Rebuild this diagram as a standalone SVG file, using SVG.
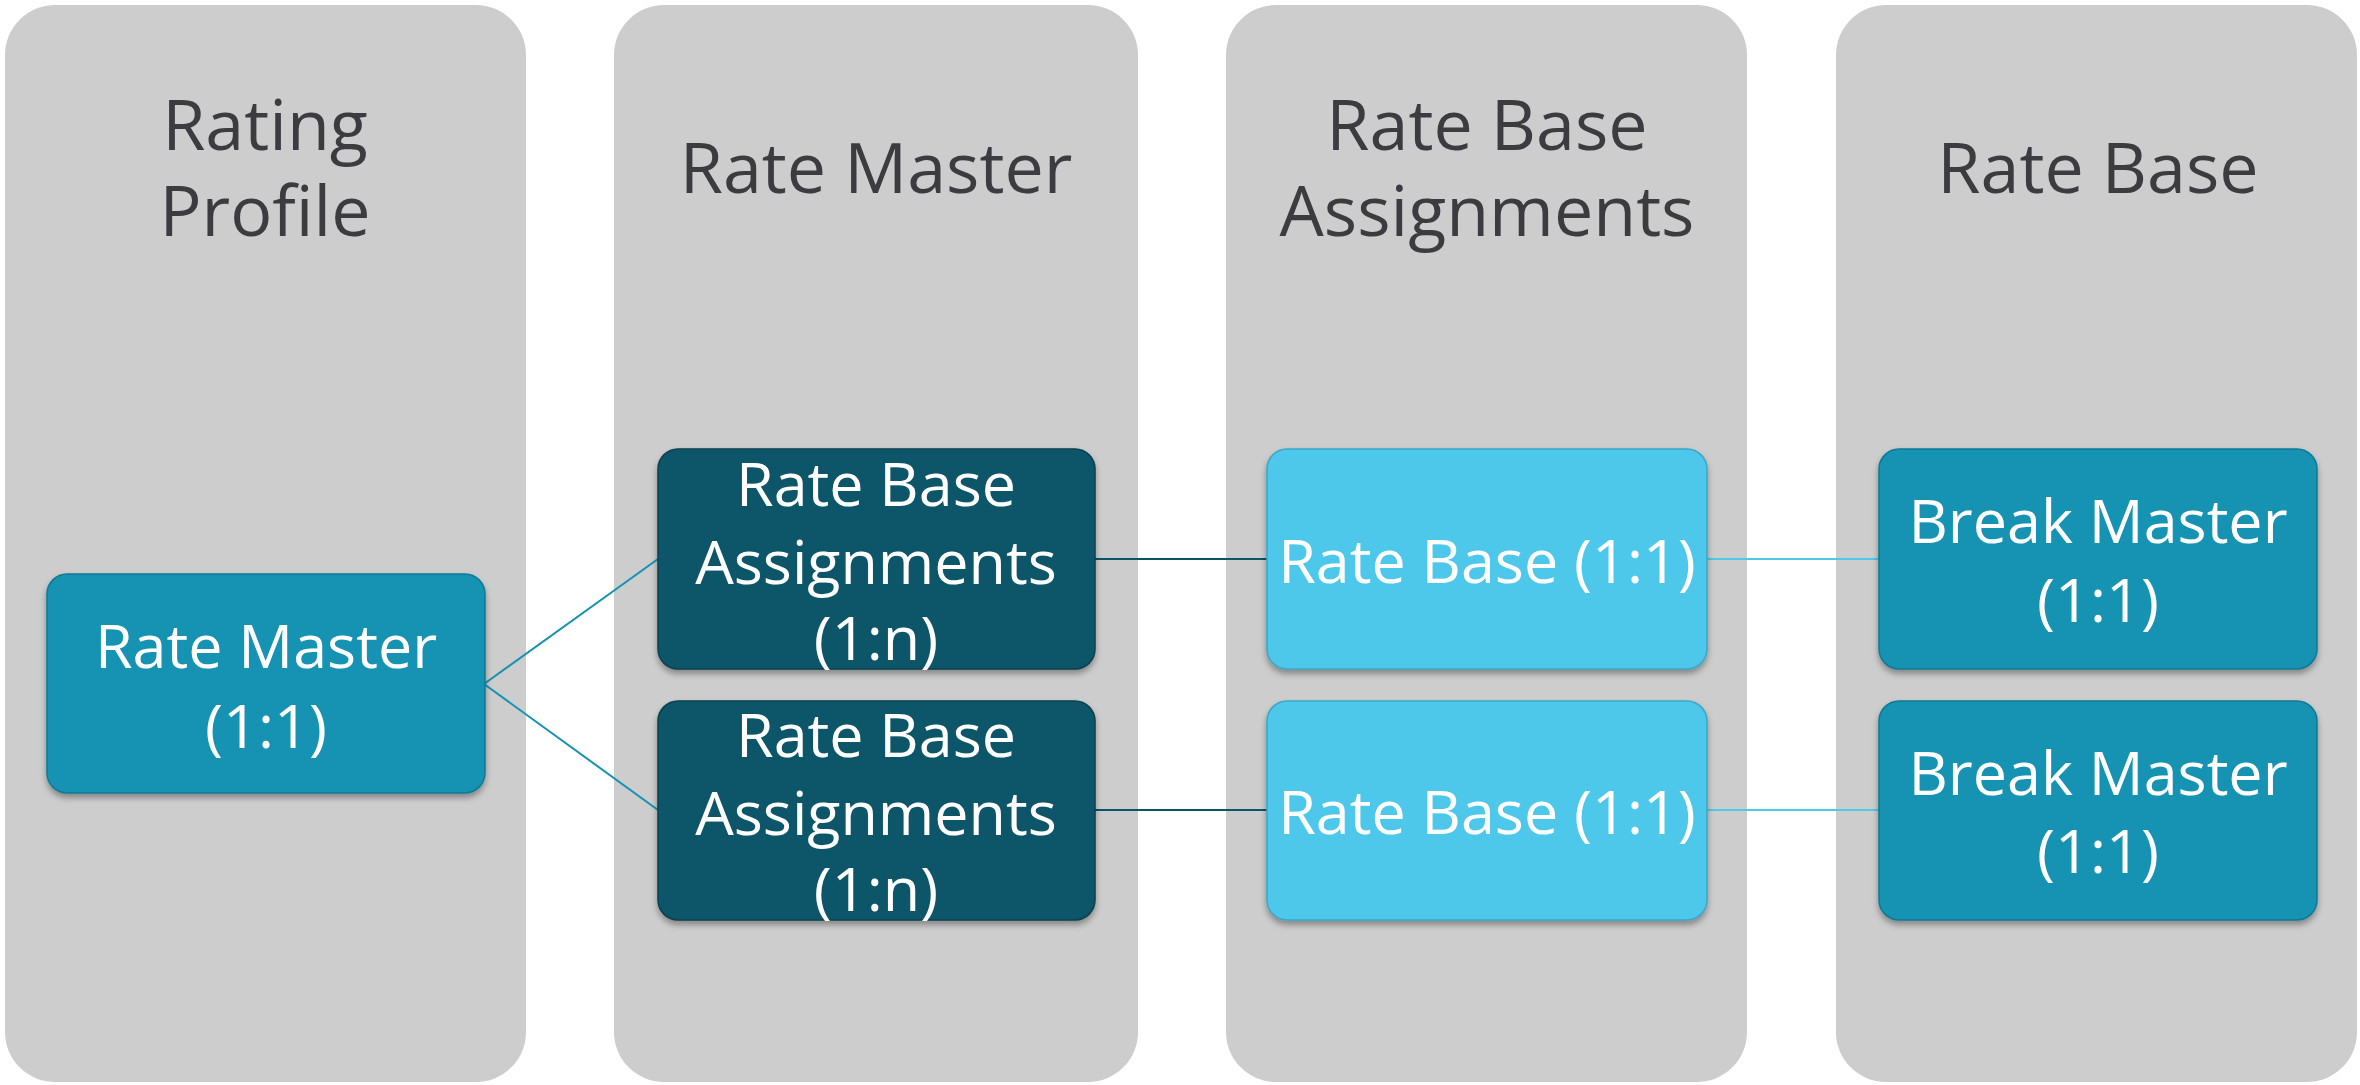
<svg xmlns="http://www.w3.org/2000/svg" width="2360" height="1085" viewBox="0 0 2360 1085">
<style>
.col{fill:#cdcdcd}
.hd{font-family:"Open Sans","Noto Sans",sans-serif;font-size:70px;fill:#3b3b40;text-anchor:middle}
.nt{font-family:"Open Sans","Noto Sans",sans-serif;font-size:61px;fill:#ffffff;text-anchor:middle}
.mid{fill:#1492b2;stroke:#0f7a95;stroke-width:1.5}
.dark{fill:#0a5468;stroke:#08414f;stroke-width:1.5}
.light{fill:#4ec8ea;stroke:#3aa7c6;stroke-width:1.5}
.bx{filter:url(#sh)}
</style>
<defs>
<filter id="sh" x="-10%" y="-10%" width="120%" height="130%">
<feDropShadow dx="0" dy="4" stdDeviation="3" flood-color="#000" flood-opacity="0.35"/>
</filter>
</defs>
<rect width="2360" height="1085" fill="#ffffff"/>
<g id="columns">
<rect class="col" x="5" y="5" width="521" height="1077" rx="50"/>
<rect class="col" x="614" y="5" width="524" height="1077" rx="50"/>
<rect class="col" x="1226" y="5" width="521" height="1077" rx="50"/>
<rect class="col" x="1836" y="5" width="521" height="1077" rx="50"/>
<text class="hd" x="265" y="150">Rating</text>
<text class="hd" x="265" y="236">Profile</text>
<text class="hd" x="876" y="193">Rate Master</text>
<text class="hd" x="1487" y="150">Rate Base</text>
<text class="hd" x="1487" y="236">Assignments</text>
<text class="hd" x="2098" y="193">Rate Base</text>
</g>
<g id="connectors" fill="none" stroke-width="2">
<line x1="484" y1="684" x2="658" y2="559" stroke="#1492b2"/>
<line x1="484" y1="684" x2="658" y2="810" stroke="#1492b2"/>
<line x1="1095" y1="559" x2="1267" y2="559" stroke="#0a5468"/>
<line x1="1095" y1="810" x2="1267" y2="810" stroke="#0a5468"/>
<line x1="1707" y1="559" x2="1879" y2="559" stroke="#4ec8ea"/>
<line x1="1707" y1="810" x2="1879" y2="810" stroke="#4ec8ea"/>
</g>
<g id="rate-master">
<rect class="mid bx" x="47" y="574" width="438" height="219" rx="20"/>
<text class="nt" x="266" y="668">Rate Master</text>
<text class="nt" x="266" y="748">(1:1)</text>
</g>
<g id="rba-1">
<rect class="dark bx" x="658" y="449" width="437" height="220" rx="20"/>
<text class="nt" x="876" y="506">Rate Base</text>
<text class="nt" x="876" y="584">Assignments</text>
<text class="nt" x="876" y="660">(1:n)</text>
</g>
<g id="rba-2">
<rect class="dark bx" x="658" y="701" width="437" height="219" rx="20"/>
<text class="nt" x="876" y="757">Rate Base</text>
<text class="nt" x="876" y="835">Assignments</text>
<text class="nt" x="876" y="911">(1:n)</text>
</g>
<g id="rate-base-1">
<rect class="light bx" x="1267" y="449" width="440" height="220" rx="20"/>
<text class="nt" x="1487" y="583">Rate Base (1:1)</text>
</g>
<g id="rate-base-2">
<rect class="light bx" x="1267" y="701" width="440" height="219" rx="20"/>
<text class="nt" x="1487" y="834">Rate Base (1:1)</text>
</g>
<g id="break-master-1">
<rect class="mid bx" x="1879" y="449" width="438" height="220" rx="20"/>
<text class="nt" x="2098" y="543">Break Master</text>
<text class="nt" x="2098" y="622">(1:1)</text>
</g>
<g id="break-master-2">
<rect class="mid bx" x="1879" y="701" width="438" height="219" rx="20"/>
<text class="nt" x="2098" y="795">Break Master</text>
<text class="nt" x="2098" y="873">(1:1)</text>
</g>
</svg>
